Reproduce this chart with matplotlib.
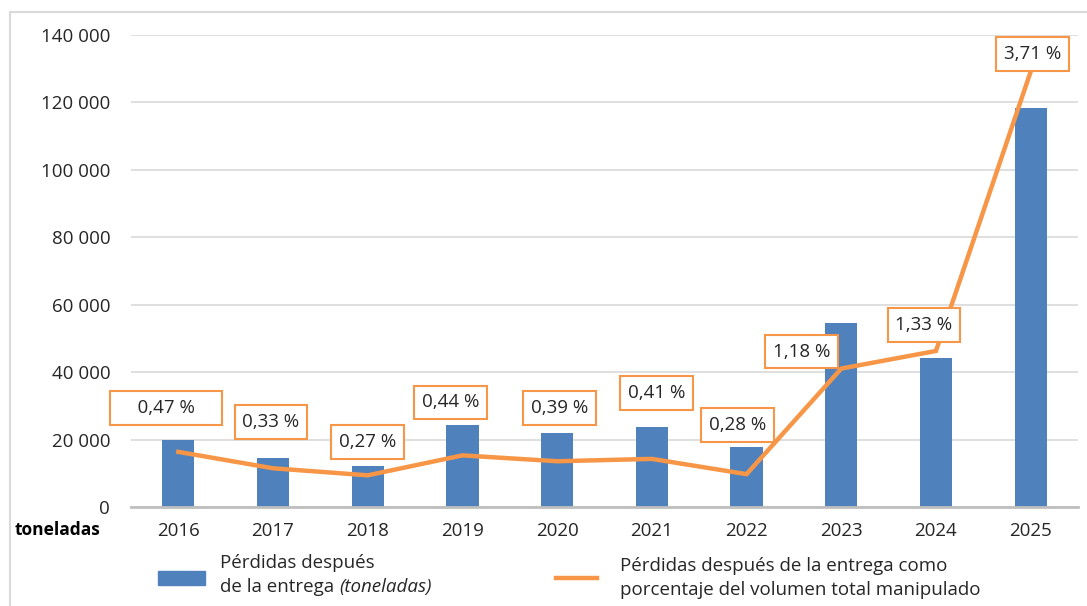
import matplotlib
matplotlib.use("Agg")
from matplotlib import pyplot as plt
from matplotlib.patches import Rectangle
from matplotlib.ticker import FuncFormatter
import numpy as np

years = ['2016', '2017', '2018', '2019', '2020', '2021', '2022', '2023', '2024', '2025']
tonnes = [20000, 14600, 12200, 24300, 21900, 23700, 17800, 54600, 44200, 118300]
percent = [0.47, 0.33, 0.27, 0.44, 0.39, 0.41, 0.28, 1.18, 1.33, 3.71]
pct_labels = ['0,47 %', '0,33 %', '0,27 %', '0,44 %', '0,39 %', '0,41 %',
              '0,28 %', '1,18 %', '1,33 %', '3,71 %']
# label offsets from the data point, in pixels (dx, dy upwards)
label_offsets = [(-12, 44), (-2, 46), (0, 33), (-12, 53), (2, 53), (5, 66),
                 (-9, 49), (-40, 17), (-12, 26), (2, 18)]

plt.rcParams['font.family'] = ['Open Sans', 'DejaVu Sans']

BLUE = '#4f81bd'
ORANGE = '#f79646'
TEXT = '#262626'
FS = 13.5

fig = plt.figure(figsize=(10.87, 6.06), dpi=100)
fig.patches.append(Rectangle((10 / 1087, -0.01), 1.02, 1 - 12 / 606 + 0.01,
                             transform=fig.transFigure, fill=False,
                             edgecolor='#d9d9d9', linewidth=1.5))

ax = fig.add_axes([131 / 1087, 1 - 507 / 606, 947 / 1087, 472 / 606])
x = np.arange(len(years))
ax.bar(x, tonnes, width=0.34, color=BLUE, zorder=2)

ax.set_ylim(0, 140000)
ax.set_xlim(-0.5, len(years) - 0.5)
ax.set_yticks(range(0, 140001, 20000))
ax.yaxis.set_major_formatter(FuncFormatter(lambda v, p: f'{int(v):,}'.replace(',', ' ')))
ax.set_xticks(x)
ax.set_xticklabels(years)
ax.tick_params(axis='both', length=0, labelsize=FS, colors=TEXT)
ax.tick_params(axis='y', pad=15)
ax.tick_params(axis='x', pad=11)
ax.grid(axis='y', color='#d9d9d9', linewidth=1.2, zorder=0)
for s in ['top', 'right', 'left']:
    ax.spines[s].set_visible(False)
ax.spines['bottom'].set_color('#bfbfbf')
ax.spines['bottom'].set_linewidth(2)
ax.spines['bottom'].set_zorder(3)

ax2 = ax.twinx()
ax2.set_ylim(0, 140000 / 34800)
ax2.axis('off')
ax2.plot(x, percent, color=ORANGE, linewidth=3.2, zorder=3,
         solid_joinstyle='miter')

for i, (xi, p, lab, (dx, dy)) in enumerate(zip(x, percent, pct_labels, label_offsets)):
    if i == 0:
        lab = '    ' + lab + '    '
    ax2.annotate(lab, (xi, p), xytext=(dx * 0.72, dy * 0.72),
                 textcoords='offset points', ha='center', va='center',
                 fontsize=FS, color=TEXT, zorder=5,
                 bbox=dict(boxstyle='square,pad=0.42', fc='white',
                           ec=ORANGE, lw=1.5))

fig.text(15 / 1087, 1 - 530 / 606, 'toneladas', fontsize=12.5, fontweight='bold',
         color='black', va='center', ha='left')

# legend
fig.patches.append(Rectangle((158 / 1087, 1 - 585 / 606), 47 / 1087, 14 / 606,
                             transform=fig.transFigure, color=BLUE))
fig.text(220 / 1087, 1 - 563 / 606, 'Pérdidas después', fontsize=FS,
         color=TEXT, va='center')
t1 = fig.text(220 / 1087, 1 - 587 / 606, 'de la entrega ', fontsize=FS,
              color=TEXT, va='center')
fig.canvas.draw()
bb = t1.get_window_extent()
fig.text(bb.x1 / 1087, 1 - 587 / 606, '(toneladas)', fontsize=FS,
         color=TEXT, va='center', style='italic')

fig.lines.append(plt.Line2D([556 / 1087, 597 / 1087], [1 - 578 / 606, 1 - 578 / 606],
                            transform=fig.transFigure, color=ORANGE, linewidth=3.2))
fig.text(620 / 1087, 1 - 566 / 606, 'Pérdidas después de la entrega como',
         fontsize=FS, color=TEXT, va='center')
fig.text(620 / 1087, 1 - 590 / 606, 'porcentaje del volumen total manipulado',
         fontsize=FS, color=TEXT, va='center')

fig.savefig('out.png', dpi=100)
